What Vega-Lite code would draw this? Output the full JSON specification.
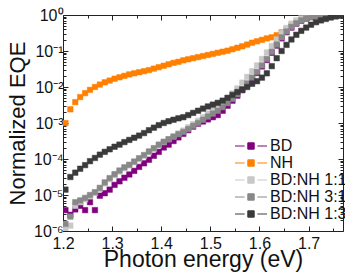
{
  "$schema": "https://vega.github.io/schema/vega-lite/v6.json",
  "width": 280,
  "height": 216,
  "autosize": "none",
  "padding": {"left": 63, "top": 15, "right": 2, "bottom": 48},
  "config": {
    "font": "Liberation Sans",
    "view": {"stroke": "#222", "strokeWidth": 1},
    "axis": {"grid": false, "domain": false, "labelColor": "#111", "titleColor": "#111", "tickColor": "#222"}
  },
  "data": {"values": [
    {"E":1.205,"s":"BD","v":3.8e-6},{"E":1.215,"s":"BD","v":2.82e-6},{"E":1.225,"s":"BD","v":3.98e-6},{"E":1.235,"s":"BD","v":5.01e-6},{"E":1.245,"s":"BD","v":3.8e-6},{"E":1.255,"s":"BD","v":6.31e-6},{"E":1.265,"s":"BD","v":3.8e-6},{"E":1.275,"s":"BD","v":9.55e-6},{"E":1.285,"s":"BD","v":1.12e-5},{"E":1.295,"s":"BD","v":1.41e-5},
    {"E":1.305,"s":"BD","v":1.91e-5},{"E":1.315,"s":"BD","v":2.4e-5},{"E":1.325,"s":"BD","v":3.02e-5},{"E":1.335,"s":"BD","v":3.72e-5},{"E":1.345,"s":"BD","v":4.68e-5},{"E":1.355,"s":"BD","v":6.03e-5},{"E":1.365,"s":"BD","v":7.59e-5},{"E":1.375,"s":"BD","v":9.55e-5},{"E":1.385,"s":"BD","v":1.23e-4},{"E":1.395,"s":"BD","v":1.58e-4},
    {"E":1.405,"s":"BD","v":2.09e-4},{"E":1.415,"s":"BD","v":2.51e-4},{"E":1.425,"s":"BD","v":3.16e-4},{"E":1.435,"s":"BD","v":3.98e-4},{"E":1.445,"s":"BD","v":5.01e-4},{"E":1.455,"s":"BD","v":6.31e-4},{"E":1.465,"s":"BD","v":7.94e-4},{"E":1.475,"s":"BD","v":9.55e-4},{"E":1.485,"s":"BD","v":1.1e-3},{"E":1.495,"s":"BD","v":1.26e-3},
    {"E":1.505,"s":"BD","v":1.45e-3},{"E":1.515,"s":"BD","v":1.66e-3},{"E":1.525,"s":"BD","v":2.19e-3},{"E":1.535,"s":"BD","v":3.02e-3},{"E":1.545,"s":"BD","v":4.17e-3},{"E":1.555,"s":"BD","v":5.75e-3},{"E":1.565,"s":"BD","v":8.13e-3},{"E":1.575,"s":"BD","v":1.17e-2},{"E":1.585,"s":"BD","v":1.7e-2},{"E":1.595,"s":"BD","v":2.45e-2},
    {"E":1.605,"s":"BD","v":3.72e-2},{"E":1.615,"s":"BD","v":5.62e-2},{"E":1.625,"s":"BD","v":8.91e-2},{"E":1.635,"s":"BD","v":0.141},{"E":1.645,"s":"BD","v":0.224},{"E":1.655,"s":"BD","v":0.331},{"E":1.665,"s":"BD","v":0.447},{"E":1.675,"s":"BD","v":0.575},{"E":1.685,"s":"BD","v":0.692},{"E":1.695,"s":"BD","v":0.794},
    {"E":1.705,"s":"BD","v":0.871},{"E":1.715,"s":"BD","v":0.933},{"E":1.725,"s":"BD","v":0.977},{"E":1.735,"s":"BD","v":1},{"E":1.745,"s":"BD","v":1},{"E":1.755,"s":"BD","v":1},{"E":1.765,"s":"BD","v":1},

    {"E":1.205,"s":"NH","v":1.0e-3},{"E":1.215,"s":"NH","v":2.4e-3},{"E":1.225,"s":"NH","v":3.8e-3},{"E":1.235,"s":"NH","v":5.25e-3},{"E":1.245,"s":"NH","v":6.76e-3},{"E":1.255,"s":"NH","v":8.32e-3},{"E":1.265,"s":"NH","v":1.0e-2},{"E":1.275,"s":"NH","v":1.17e-2},{"E":1.285,"s":"NH","v":1.35e-2},{"E":1.295,"s":"NH","v":1.51e-2},
    {"E":1.305,"s":"NH","v":1.7e-2},{"E":1.315,"s":"NH","v":1.86e-2},{"E":1.325,"s":"NH","v":2.04e-2},{"E":1.335,"s":"NH","v":2.24e-2},{"E":1.345,"s":"NH","v":2.4e-2},{"E":1.355,"s":"NH","v":2.57e-2},{"E":1.365,"s":"NH","v":2.75e-2},{"E":1.375,"s":"NH","v":2.95e-2},{"E":1.385,"s":"NH","v":3.24e-2},{"E":1.395,"s":"NH","v":3.55e-2},
    {"E":1.405,"s":"NH","v":3.89e-2},{"E":1.415,"s":"NH","v":4.27e-2},{"E":1.425,"s":"NH","v":4.68e-2},{"E":1.435,"s":"NH","v":5.01e-2},{"E":1.445,"s":"NH","v":5.5e-2},{"E":1.455,"s":"NH","v":5.89e-2},{"E":1.465,"s":"NH","v":6.31e-2},{"E":1.475,"s":"NH","v":6.76e-2},{"E":1.485,"s":"NH","v":7.24e-2},{"E":1.495,"s":"NH","v":7.76e-2},
    {"E":1.505,"s":"NH","v":8.32e-2},{"E":1.515,"s":"NH","v":8.91e-2},{"E":1.525,"s":"NH","v":9.55e-2},{"E":1.535,"s":"NH","v":0.102},{"E":1.545,"s":"NH","v":0.112},{"E":1.555,"s":"NH","v":0.123},{"E":1.565,"s":"NH","v":0.135},{"E":1.575,"s":"NH","v":0.151},{"E":1.585,"s":"NH","v":0.17},{"E":1.595,"s":"NH","v":0.186},
    {"E":1.605,"s":"NH","v":0.204},{"E":1.615,"s":"NH","v":0.224},{"E":1.625,"s":"NH","v":0.24},{"E":1.635,"s":"NH","v":0.275},{"E":1.645,"s":"NH","v":0.331},{"E":1.655,"s":"NH","v":0.407},{"E":1.665,"s":"NH","v":0.513},{"E":1.675,"s":"NH","v":0.617},{"E":1.685,"s":"NH","v":0.741},{"E":1.695,"s":"NH","v":0.851},
    {"E":1.705,"s":"NH","v":0.912},{"E":1.715,"s":"NH","v":0.955},{"E":1.725,"s":"NH","v":0.977},{"E":1.735,"s":"NH","v":1},{"E":1.745,"s":"NH","v":1},{"E":1.755,"s":"NH","v":1},{"E":1.765,"s":"NH","v":1},

    {"E":1.205,"s":"BD:NH 1:1","v":1.12e-6},{"E":1.215,"s":"BD:NH 1:1","v":1.41e-6},{"E":1.225,"s":"BD:NH 1:1","v":5.01e-6},{"E":1.235,"s":"BD:NH 1:1","v":6.31e-6},{"E":1.245,"s":"BD:NH 1:1","v":7.59e-6},{"E":1.255,"s":"BD:NH 1:1","v":9.33e-6},{"E":1.265,"s":"BD:NH 1:1","v":1.15e-5},{"E":1.275,"s":"BD:NH 1:1","v":1.48e-5},{"E":1.285,"s":"BD:NH 1:1","v":2.09e-5},{"E":1.295,"s":"BD:NH 1:1","v":2.75e-5},
    {"E":1.305,"s":"BD:NH 1:1","v":3.55e-5},{"E":1.315,"s":"BD:NH 1:1","v":4.47e-5},{"E":1.325,"s":"BD:NH 1:1","v":5.5e-5},{"E":1.335,"s":"BD:NH 1:1","v":6.61e-5},{"E":1.345,"s":"BD:NH 1:1","v":8.13e-5},{"E":1.355,"s":"BD:NH 1:1","v":1.0e-4},{"E":1.365,"s":"BD:NH 1:1","v":1.23e-4},{"E":1.375,"s":"BD:NH 1:1","v":1.55e-4},{"E":1.385,"s":"BD:NH 1:1","v":1.91e-4},{"E":1.395,"s":"BD:NH 1:1","v":2.4e-4},
    {"E":1.405,"s":"BD:NH 1:1","v":2.95e-4},{"E":1.415,"s":"BD:NH 1:1","v":3.55e-4},{"E":1.425,"s":"BD:NH 1:1","v":4.27e-4},{"E":1.435,"s":"BD:NH 1:1","v":5.13e-4},{"E":1.445,"s":"BD:NH 1:1","v":6.17e-4},{"E":1.455,"s":"BD:NH 1:1","v":7.59e-4},{"E":1.465,"s":"BD:NH 1:1","v":9.33e-4},{"E":1.475,"s":"BD:NH 1:1","v":1.15e-3},{"E":1.485,"s":"BD:NH 1:1","v":1.45e-3},{"E":1.495,"s":"BD:NH 1:1","v":1.82e-3},
    {"E":1.505,"s":"BD:NH 1:1","v":2.29e-3},{"E":1.515,"s":"BD:NH 1:1","v":2.88e-3},{"E":1.525,"s":"BD:NH 1:1","v":3.72e-3},{"E":1.535,"s":"BD:NH 1:1","v":4.9e-3},{"E":1.545,"s":"BD:NH 1:1","v":6.61e-3},{"E":1.555,"s":"BD:NH 1:1","v":9.12e-3},{"E":1.565,"s":"BD:NH 1:1","v":1.32e-2},{"E":1.575,"s":"BD:NH 1:1","v":1.91e-2},{"E":1.585,"s":"BD:NH 1:1","v":2.75e-2},{"E":1.595,"s":"BD:NH 1:1","v":3.98e-2},
    {"E":1.605,"s":"BD:NH 1:1","v":6.03e-2},{"E":1.615,"s":"BD:NH 1:1","v":9.12e-2},{"E":1.625,"s":"BD:NH 1:1","v":0.138},{"E":1.635,"s":"BD:NH 1:1","v":0.209},{"E":1.645,"s":"BD:NH 1:1","v":0.316},{"E":1.655,"s":"BD:NH 1:1","v":0.437},{"E":1.665,"s":"BD:NH 1:1","v":0.575},{"E":1.675,"s":"BD:NH 1:1","v":0.708},{"E":1.685,"s":"BD:NH 1:1","v":0.813},{"E":1.695,"s":"BD:NH 1:1","v":0.891},
    {"E":1.705,"s":"BD:NH 1:1","v":0.955},{"E":1.715,"s":"BD:NH 1:1","v":0.977},{"E":1.725,"s":"BD:NH 1:1","v":1},{"E":1.735,"s":"BD:NH 1:1","v":1},{"E":1.745,"s":"BD:NH 1:1","v":1},{"E":1.755,"s":"BD:NH 1:1","v":1},{"E":1.765,"s":"BD:NH 1:1","v":1},

    {"E":1.205,"s":"BD:NH 3:1","v":1.58e-6},{"E":1.215,"s":"BD:NH 3:1","v":2.51e-6},{"E":1.225,"s":"BD:NH 3:1","v":6.31e-6},{"E":1.235,"s":"BD:NH 3:1","v":7.08e-6},{"E":1.245,"s":"BD:NH 3:1","v":8.32e-6},{"E":1.255,"s":"BD:NH 3:1","v":1.0e-5},{"E":1.265,"s":"BD:NH 3:1","v":1.2e-5},{"E":1.275,"s":"BD:NH 3:1","v":1.58e-5},{"E":1.285,"s":"BD:NH 3:1","v":2.24e-5},{"E":1.295,"s":"BD:NH 3:1","v":2.95e-5},
    {"E":1.305,"s":"BD:NH 3:1","v":3.8e-5},{"E":1.315,"s":"BD:NH 3:1","v":4.79e-5},{"E":1.325,"s":"BD:NH 3:1","v":5.89e-5},{"E":1.335,"s":"BD:NH 3:1","v":6.92e-5},{"E":1.345,"s":"BD:NH 3:1","v":8.51e-5},{"E":1.355,"s":"BD:NH 3:1","v":1.05e-4},{"E":1.365,"s":"BD:NH 3:1","v":1.29e-4},{"E":1.375,"s":"BD:NH 3:1","v":1.62e-4},{"E":1.385,"s":"BD:NH 3:1","v":2.0e-4},{"E":1.395,"s":"BD:NH 3:1","v":2.51e-4},
    {"E":1.405,"s":"BD:NH 3:1","v":3.02e-4},{"E":1.415,"s":"BD:NH 3:1","v":3.55e-4},{"E":1.425,"s":"BD:NH 3:1","v":4.17e-4},{"E":1.435,"s":"BD:NH 3:1","v":4.9e-4},{"E":1.445,"s":"BD:NH 3:1","v":5.62e-4},{"E":1.455,"s":"BD:NH 3:1","v":6.76e-4},{"E":1.465,"s":"BD:NH 3:1","v":8.32e-4},{"E":1.475,"s":"BD:NH 3:1","v":1.0e-3},{"E":1.485,"s":"BD:NH 3:1","v":1.23e-3},{"E":1.495,"s":"BD:NH 3:1","v":1.51e-3},
    {"E":1.505,"s":"BD:NH 3:1","v":1.82e-3},{"E":1.515,"s":"BD:NH 3:1","v":2.19e-3},{"E":1.525,"s":"BD:NH 3:1","v":2.75e-3},{"E":1.535,"s":"BD:NH 3:1","v":3.55e-3},{"E":1.545,"s":"BD:NH 3:1","v":4.68e-3},{"E":1.555,"s":"BD:NH 3:1","v":6.31e-3},{"E":1.565,"s":"BD:NH 3:1","v":8.71e-3},{"E":1.575,"s":"BD:NH 3:1","v":1.26e-2},{"E":1.585,"s":"BD:NH 3:1","v":1.82e-2},{"E":1.595,"s":"BD:NH 3:1","v":2.63e-2},
    {"E":1.605,"s":"BD:NH 3:1","v":3.98e-2},{"E":1.615,"s":"BD:NH 3:1","v":6.03e-2},{"E":1.625,"s":"BD:NH 3:1","v":9.55e-2},{"E":1.635,"s":"BD:NH 3:1","v":0.151},{"E":1.645,"s":"BD:NH 3:1","v":0.24},{"E":1.655,"s":"BD:NH 3:1","v":0.347},{"E":1.665,"s":"BD:NH 3:1","v":0.468},{"E":1.675,"s":"BD:NH 3:1","v":0.589},{"E":1.685,"s":"BD:NH 3:1","v":0.708},{"E":1.695,"s":"BD:NH 3:1","v":0.813},
    {"E":1.705,"s":"BD:NH 3:1","v":0.891},{"E":1.715,"s":"BD:NH 3:1","v":0.933},{"E":1.725,"s":"BD:NH 3:1","v":0.977},{"E":1.735,"s":"BD:NH 3:1","v":1},{"E":1.745,"s":"BD:NH 3:1","v":1},{"E":1.755,"s":"BD:NH 3:1","v":1},{"E":1.765,"s":"BD:NH 3:1","v":1},

    {"E":1.205,"s":"BD:NH 1:3","v":1.41e-5},{"E":1.215,"s":"BD:NH 1:3","v":3.16e-5},{"E":1.225,"s":"BD:NH 1:3","v":4.17e-5},{"E":1.235,"s":"BD:NH 1:3","v":5.37e-5},{"E":1.245,"s":"BD:NH 1:3","v":6.76e-5},{"E":1.255,"s":"BD:NH 1:3","v":8.71e-5},{"E":1.265,"s":"BD:NH 1:3","v":1.07e-4},{"E":1.275,"s":"BD:NH 1:3","v":1.32e-4},{"E":1.285,"s":"BD:NH 1:3","v":1.58e-4},{"E":1.295,"s":"BD:NH 1:3","v":1.86e-4},
    {"E":1.305,"s":"BD:NH 1:3","v":2.19e-4},{"E":1.315,"s":"BD:NH 1:3","v":2.51e-4},{"E":1.325,"s":"BD:NH 1:3","v":2.95e-4},{"E":1.335,"s":"BD:NH 1:3","v":3.39e-4},{"E":1.345,"s":"BD:NH 1:3","v":3.89e-4},{"E":1.355,"s":"BD:NH 1:3","v":4.47e-4},{"E":1.365,"s":"BD:NH 1:3","v":5.25e-4},{"E":1.375,"s":"BD:NH 1:3","v":6.31e-4},{"E":1.385,"s":"BD:NH 1:3","v":7.41e-4},{"E":1.395,"s":"BD:NH 1:3","v":8.71e-4},
    {"E":1.405,"s":"BD:NH 1:3","v":1.0e-3},{"E":1.415,"s":"BD:NH 1:3","v":1.12e-3},{"E":1.425,"s":"BD:NH 1:3","v":1.23e-3},{"E":1.435,"s":"BD:NH 1:3","v":1.35e-3},{"E":1.445,"s":"BD:NH 1:3","v":1.45e-3},{"E":1.455,"s":"BD:NH 1:3","v":1.66e-3},{"E":1.465,"s":"BD:NH 1:3","v":1.91e-3},{"E":1.475,"s":"BD:NH 1:3","v":2.19e-3},{"E":1.485,"s":"BD:NH 1:3","v":2.51e-3},{"E":1.495,"s":"BD:NH 1:3","v":2.88e-3},
    {"E":1.505,"s":"BD:NH 1:3","v":3.24e-3},{"E":1.515,"s":"BD:NH 1:3","v":3.63e-3},{"E":1.525,"s":"BD:NH 1:3","v":4.17e-3},{"E":1.535,"s":"BD:NH 1:3","v":5.01e-3},{"E":1.545,"s":"BD:NH 1:3","v":6.03e-3},{"E":1.555,"s":"BD:NH 1:3","v":7.24e-3},{"E":1.565,"s":"BD:NH 1:3","v":8.51e-3},{"E":1.575,"s":"BD:NH 1:3","v":1.0e-2},{"E":1.585,"s":"BD:NH 1:3","v":1.23e-2},{"E":1.595,"s":"BD:NH 1:3","v":1.45e-2},
    {"E":1.605,"s":"BD:NH 1:3","v":1.82e-2},{"E":1.615,"s":"BD:NH 1:3","v":2.4e-2},{"E":1.625,"s":"BD:NH 1:3","v":3.8e-2},{"E":1.635,"s":"BD:NH 1:3","v":6.31e-2},{"E":1.645,"s":"BD:NH 1:3","v":0.1},{"E":1.655,"s":"BD:NH 1:3","v":0.148},{"E":1.665,"s":"BD:NH 1:3","v":0.209},{"E":1.675,"s":"BD:NH 1:3","v":0.282},{"E":1.685,"s":"BD:NH 1:3","v":0.363},{"E":1.695,"s":"BD:NH 1:3","v":0.447},
    {"E":1.705,"s":"BD:NH 1:3","v":0.537},{"E":1.715,"s":"BD:NH 1:3","v":0.631},{"E":1.725,"s":"BD:NH 1:3","v":0.708},{"E":1.735,"s":"BD:NH 1:3","v":0.776},{"E":1.745,"s":"BD:NH 1:3","v":0.851},{"E":1.755,"s":"BD:NH 1:3","v":0.912},{"E":1.765,"s":"BD:NH 1:3","v":0.955}
  ]},
  "layer": [
    {
      "mark": {"type": "point", "shape": "square", "filled": true, "size": 30, "opacity": 1, "strokeWidth": 0.5, "clip": true},
      "encoding": {
        "x": {"field": "E", "type": "quantitative", "scale": {"domain": [1.2, 1.77], "nice": false, "zero": false},
              "axis": {"orient": "bottom", "title": "Photon energy (eV)", "values": [1.2, 1.3, 1.4, 1.5, 1.6, 1.7], "format": ".1f",
                       "labelFontSize": 16, "titleFontSize": 23, "titleFontWeight": "normal", "tickSize": -5, "labelPadding": 9, "titlePadding": -3, "labelFlush": false}},
        "y": {"field": "v", "type": "quantitative", "scale": {"type": "log", "domain": [1e-6, 1], "nice": false},
              "axis": {"orient": "left", "title": "Normalized EQE", "values": [1e-6, 1e-5, 1e-4, 1e-3, 1e-2, 1e-1, 1],
                       "labelExpr": "'10' + ['⁰','⁻¹','⁻²','⁻³','⁻⁴','⁻⁵','⁻⁶'][round(-log(datum.value)/LN10)]",
                       "labelFontSize": 16, "titleFontSize": 22, "titleFontWeight": "normal", "tickSize": -5, "labelPadding": 5, "titlePadding": 4, "labelFlush": false}},
        "fill": {"field": "s", "type": "nominal", "sort": null,
                 "scale": {"domain": ["BD", "NH", "BD:NH 1:1", "BD:NH 3:1", "BD:NH 1:3"], "range": ["#800080", "#ff8000", "#c8c8c8", "#888888", "#3a3a3a"]},
                 "legend": {"orient": "none", "legendX": 180, "legendY": 123, "title": null, "labelFontSize": 16, "labelColor": "#111",
                            "symbolType": "M-4,0H-1.6M1.6,0H4M-0.8,-0.8H0.8V0.8H-0.8Z", "symbolSize": 64, "symbolStrokeWidth": 1, "labelOffset": 11, "rowPadding": 1}},
        "stroke": {"field": "s", "type": "nominal", "sort": null,
                 "scale": {"domain": ["BD", "NH", "BD:NH 1:1", "BD:NH 3:1", "BD:NH 1:3"], "range": ["#800080", "#ff8000", "#c8c8c8", "#888888", "#3a3a3a"]},
                 "legend": {"orient": "none", "legendX": 180, "legendY": 123, "title": null, "labelFontSize": 16, "labelColor": "#111",
                            "symbolType": "M-4,0H-1.6M1.6,0H4M-0.8,-0.8H0.8V0.8H-0.8Z", "symbolSize": 64, "symbolStrokeWidth": 1, "labelOffset": 11, "rowPadding": 1}}
      }
    },
    {
      "mark": {"type": "point", "opacity": 0},
      "encoding": {
        "x": {"field": "E", "type": "quantitative", "axis": {"orient": "bottom", "title": null, "labels": false, "values": [1.25, 1.35, 1.45, 1.55, 1.65, 1.75], "tickSize": -3}},
        "y": {"field": "v", "type": "quantitative", "axis": {"orient": "left", "title": null, "labels": false, "tickSize": -3,
              "values": [2e-6,3e-6,4e-6,5e-6,6e-6,7e-6,8e-6,9e-6,2e-5,3e-5,4e-5,5e-5,6e-5,7e-5,8e-5,9e-5,2e-4,3e-4,4e-4,5e-4,6e-4,7e-4,8e-4,9e-4,2e-3,3e-3,4e-3,5e-3,6e-3,7e-3,8e-3,9e-3,2e-2,3e-2,4e-2,5e-2,6e-2,7e-2,8e-2,9e-2,0.2,0.3,0.4,0.5,0.6,0.7,0.8,0.9]}}
      }
    },
    {
      "mark": {"type": "point", "opacity": 0},
      "encoding": {
        "x": {"field": "E", "type": "quantitative", "axis": {"orient": "top", "title": null, "labels": false, "values": [1.2, 1.3, 1.4, 1.5, 1.6, 1.7], "tickSize": -5}},
        "y": {"field": "v", "type": "quantitative", "axis": {"orient": "right", "title": null, "labels": false, "values": [1e-6, 1e-5, 1e-4, 1e-3, 1e-2, 1e-1, 1], "tickSize": -5}}
      }
    },
    {
      "mark": {"type": "point", "opacity": 0},
      "encoding": {
        "x": {"field": "E", "type": "quantitative", "axis": {"orient": "top", "title": null, "labels": false, "values": [1.25, 1.35, 1.45, 1.55, 1.65, 1.75], "tickSize": -3}},
        "y": {"field": "v", "type": "quantitative", "axis": {"orient": "right", "title": null, "labels": false, "tickSize": -3,
              "values": [2e-6,3e-6,4e-6,5e-6,6e-6,7e-6,8e-6,9e-6,2e-5,3e-5,4e-5,5e-5,6e-5,7e-5,8e-5,9e-5,2e-4,3e-4,4e-4,5e-4,6e-4,7e-4,8e-4,9e-4,2e-3,3e-3,4e-3,5e-3,6e-3,7e-3,8e-3,9e-3,2e-2,3e-2,4e-2,5e-2,6e-2,7e-2,8e-2,9e-2,0.2,0.3,0.4,0.5,0.6,0.7,0.8,0.9]}}
      }
    }
  ],
  "resolve": {"axis": {"x": "independent", "y": "independent"}}
}
